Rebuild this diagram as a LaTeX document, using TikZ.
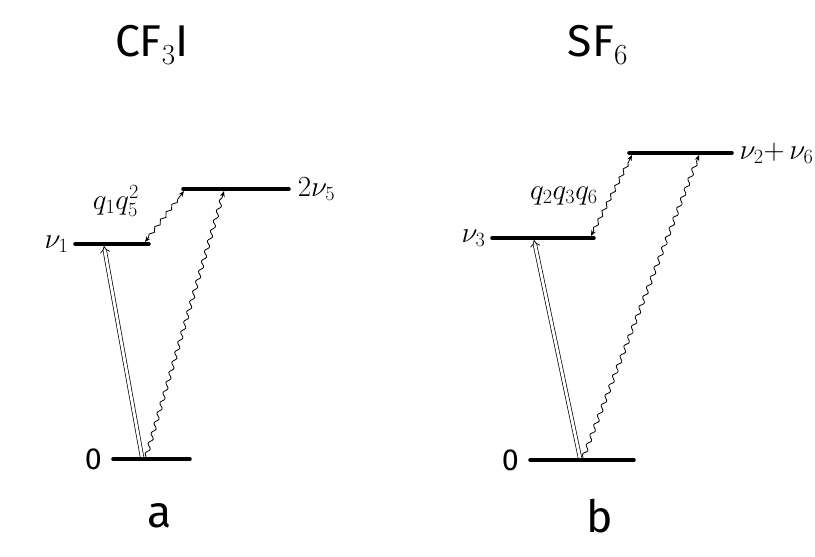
\documentclass[tikz,border=0pt]{standalone}
\usepackage{fontspec}
\setmainfont{Fira Sans}
\usetikzlibrary{arrows.meta,decorations.pathmorphing,positioning}

\begin{document}
\begin{tikzpicture}[
    x=0.3mm, y=-0.3mm,
    level/.style={line width=3pt, line cap=round},
    pump/.style={double, double distance=2.4pt, line width=0.6pt, -{Implies}},
    wavy/.style={line width=0.7pt, -{Stealth[length=5pt,width=4pt]},
        decorate, decoration={snake, amplitude=1.6pt, segment length=9pt, post length=5pt}},
    couple/.style={line width=0.7pt, {Stealth[length=5pt,width=4pt]}-{Stealth[length=5pt,width=4pt]},
        decorate, decoration={snake, amplitude=1.4pt, segment length=8pt, pre length=5pt, post length=5pt}},
    title/.style={font=\fontsize{38}{40}\selectfont},
    lbl/.style={font=\fontsize{26}{28}\selectfont},
    qlbl/.style={font=\fontsize{25}{27}\selectfont, inner sep=1pt},
]
\useasboundingbox (0,0) rectangle (815,556);

% (a) CF3I
\node[title] (ta) at (152,45) {CF$_3$I};
\draw[level] (113,459) coordinate (a0L) -- (190,459) coordinate (a0R);
\draw[level] (75,244) coordinate (a1L) -- (149,244) coordinate (a1R);
\draw[level] (183,189) coordinate (a2L) -- (289,189) coordinate (a2R);
\node[lbl, left=6pt of a0L] (a0lbl) {0};
\node[lbl, left=2pt of a1L] (a1lbl) {$\nu_1$};
\node[lbl, right=4pt of a2R] (a2lbl) {$2\nu_5$};
\coordinate (a0p) at (142,457);
\coordinate (a1p) at (104,246);
\coordinate (a0w) at (146,457);
\coordinate (a2w) at (224,191);
\coordinate (a1c) at (145,242);
\coordinate (a2c) at (184,191);
\draw[pump] (a0p) -- (a1p);
\draw[wavy] (a0w) -- (a2w);
\draw[couple] (a1c) -- (a2c);
\node[qlbl] (aq) at (116,201) {$q_1q_5^2$};
\node[title] (na) at (160,516) {a};

% (b) SF6
\node[title] (tb) at (598,45) {SF$_6$};
\draw[level] (530,460) coordinate (b0L) -- (634,460) coordinate (b0R);
\draw[level] (492,238) coordinate (b1L) -- (594,238) coordinate (b1R);
\draw[level] (629,153) coordinate (b2L) -- (732,153) coordinate (b2R);
\node[lbl, left=6pt of b0L] (b0lbl) {0};
\node[lbl, left=2pt of b1L] (b1lbl) {$\nu_3$};
\node[lbl, right=3pt of b2R] (b2lbl) {$\nu_2{+}\,\nu_6$};
\coordinate (b0p) at (580,458);
\coordinate (b1p) at (534,240);
\coordinate (b0w) at (583,458);
\coordinate (b2w) at (699,155);
\coordinate (b1c) at (591,236);
\coordinate (b2c) at (632,155);
\draw[pump] (b0p) -- (b1p);
\draw[wavy] (b0w) -- (b2w);
\draw[couple] (b1c) -- (b2c);
\node[qlbl] (bq) at (564,196) {$q_2q_3q_6$};
\node[title] (nb) at (600,516) {b};
\end{tikzpicture}
\end{document}
